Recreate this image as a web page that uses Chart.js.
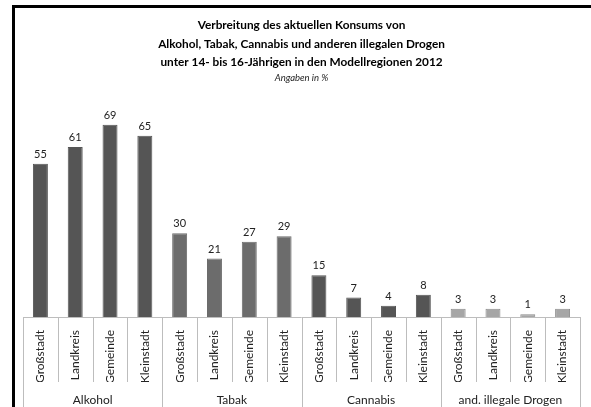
<!DOCTYPE html>
<html>
<head>
<meta charset="utf-8">
<script src="https://cdn.jsdelivr.net/npm/chart.js@4"></script>
<style>
  body { margin: 0; background: #fff; }
  #wrap { position: relative; width: 591px; height: 407px; overflow: hidden; }
  #frame { position: absolute; left: 12px; top: 5px; width: 600px; height: 420px;
           border-top: 3px solid #000; border-left: 3px solid #000; pointer-events: none; }
</style>
</head>
<body>
<div id="wrap">
  <canvas id="chart" width="591" height="407"></canvas>
  <div id="frame"></div>
</div>
<script>
// Werte aus der Grafik (Angaben in %)
const regionen = ["Großstadt", "Landkreis", "Gemeinde", "Kleinstadt"];
const substanzen = ["Alkohol", "Tabak", "Cannabis", "and. illegale Drogen"];
const alkohol = [55, 61, 69, 65];
const tabak = [30, 21, 27, 29];
const cannabis = [15, 7, 4, 8];
const drogen = [3, 3, 1, 3];
const farben = ["#555555", "#6c6c6c", "#555555", "#a6a6a6"];
const rahmen = ["#555555", "#6c6c6c", "#555555", "#8a8a8a"];

const gruppen = [alkohol, tabak, cannabis, drogen];
const labels = [];
const werte = [];
const bgColors = [];
const borderColors = [];
gruppen.forEach((g, gi) => {
  g.forEach((v, i) => {
    labels.push(regionen[i]);
    werte.push(v);
    bgColors.push(farben[gi]);
    borderColors.push(rahmen[gi]);
  });
});

const FONT = "Lato, 'Open Sans', sans-serif";

// Zahlen über den Balken
const valueLabels = {
  id: "valueLabels",
  afterDatasetsDraw(chart) {
    const ctx = chart.ctx;
    const meta = chart.getDatasetMeta(0);
    ctx.save();
    ctx.font = "11px " + FONT;
    ctx.fillStyle = "#222";
    ctx.textAlign = "center";
    ctx.textBaseline = "bottom";
    meta.data.forEach((bar, i) => {
      ctx.fillText(werte[i], bar.x, bar.y - 4);
    });
    ctx.restore();
  }
};

// Trennlinien unter der Achse
const separators = {
  id: "separators",
  afterDraw(chart) {
    const ctx = chart.ctx;
    const x = chart.scales.x;
    const area = chart.chartArea;
    const n = labels.length;
    const step = x.getPixelForValue(1) - x.getPixelForValue(0);
    ctx.save();
    ctx.strokeStyle = "#bdbdbd";
    ctx.lineWidth = 1;
    for (let i = 0; i <= n; i++) {
      let px = i < n ? x.getPixelForValue(i) - step / 2 : x.getPixelForValue(n - 1) + step / 2;
      px = Math.round(px) + 0.5;
      const bottom = i % regionen.length === 0 ? chart.height : x.bottom;
      ctx.beginPath();
      ctx.moveTo(px, area.bottom);
      ctx.lineTo(px, bottom);
      ctx.stroke();
    }
    ctx.beginPath();
    ctx.moveTo(area.left, Math.round(area.bottom) + 0.5);
    ctx.lineTo(area.right, Math.round(area.bottom) + 0.5);
    ctx.stroke();
    ctx.restore();
  }
};

new Chart(document.getElementById("chart"), {
  type: "bar",
  data: {
    labels: labels,
    datasets: [{
      data: werte,
      backgroundColor: bgColors,
      borderColor: borderColors,
      borderWidth: 1,
      barPercentage: 0.43,
      categoryPercentage: 1
    }]
  },
  options: {
    responsive: false,
    animation: false,
    layout: { padding: { left: 23, right: 11, top: 16, bottom: 0 } },
    plugins: {
      legend: { display: false },
      tooltip: { enabled: false },
      title: {
        display: true,
        text: [
          "Verbreitung des aktuellen Konsums von",
          "Alkohol, Tabak, Cannabis und anderen illegalen Drogen",
          "unter 14- bis 16-Jährigen in den Modellregionen 2012"
        ],
        color: "#000",
        font: { family: FONT, size: 11.8, weight: "bold", lineHeight: 1.57 },
        padding: { top: 0, bottom: 0 }
      },
      subtitle: {
        display: true,
        text: "Angaben in %",
        color: "#222",
        font: { family: FONT, size: 9.5, style: "italic", lineHeight: 1.26 },
        padding: { top: 0, bottom: 16 }
      }
    },
    scales: {
      y: {
        display: false,
        min: 0,
        max: 78
      },
      x: {
        grid: { display: false },
        border: { display: false },
        afterFit(scale) { scale.height = 65; },
        ticks: {
          autoSkip: false,
          minRotation: 90,
          maxRotation: 90,
          padding: 5,
          color: "#222",
          font: { family: FONT, size: 12 }
        }
      },
      x2: {
        type: "category",
        position: "bottom",
        labels: substanzen,
        offset: true,
        grid: { display: false },
        border: { display: false },
        afterFit(scale) { scale.height = 25; },
        ticks: {
          padding: 3,
          color: "#222",
          font: { family: FONT, size: 12 }
        }
      }
    }
  },
  plugins: [valueLabels, separators]
});
</script>
</body>
</html>
